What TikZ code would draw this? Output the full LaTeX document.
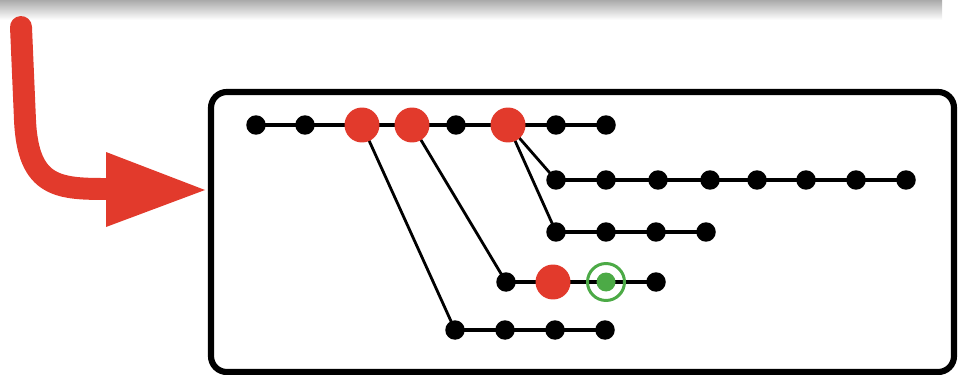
\documentclass[tikz,border=0pt]{standalone}
\usepackage{tikz}
\usetikzlibrary{backgrounds}
\definecolor{pickred}{RGB}{226, 58, 44}
\definecolor{headgreen}{RGB}{76, 170, 70}
\definecolor{shadowgray}{RGB}{170, 170, 170}

\begin{document}
\begin{tikzpicture}[x=0.02cm, y=-0.02cm,
    commit/.style={circle, fill=black, inner sep=0pt, minimum size=0.39cm},
    picked/.style={circle, fill=pickred, inner sep=0pt, minimum size=0.7cm},
    headring/.style={circle, draw=headgreen, line width=1.7pt, inner sep=0pt, minimum size=0.74cm},
    headdot/.style={circle, fill=headgreen, inner sep=0pt, minimum size=0.38cm},
    branch/.style={line width=2.2pt},
    link/.style={line width=1.6pt}]
    \useasboundingbox (0,0) rectangle (960,375);

    % Shadow along the top edge
    \shade[top color=shadowgray, bottom color=white] (0,0) rectangle (942,20);

    % Red arrow pointing into the panel
    \draw[pickred, line width=12.5pt, line cap=round] (21,27) -- (25,120) .. controls (28,189) and (60,189) .. (110,189);
    \fill[pickred] (106,152) -- (205,190) -- (106,227) -- cycle;

    % Panel
    \draw[line width=3.5pt, rounded corners=9pt] (211,92) rectangle (954,372);

    % Main line
    \foreach \x/\s [count=\i] in {256/commit, 305/commit, 362/picked, 412/picked, 456/commit, 508/picked, 556/commit, 606/commit}
        \node[\s] (t\i) at (\x,125) {};

    % Upper branch
    \foreach \x [count=\i] in {556, 606, 658, 710, 757, 806, 856, 906}
        \node[commit] (b\i) at (\x,180) {};

    % Short branch
    \foreach \x [count=\i] in {556, 606, 656, 706}
        \node[commit] (d\i) at (\x,232) {};

    % Branch with the current commit
    \node[commit] (e1) at (506,282) {};
    \node[picked] (e2) at (553,282) {};
    \node[headring] (e3) at (606,282) {};
    \node[headdot] (e3dot) at (e3) {};
    \node[commit] (e4) at (656,282) {};

    % Lower branch
    \foreach \x [count=\i] in {455, 505, 555, 605}
        \node[commit] (f\i) at (\x,330) {};

    \begin{scope}[on background layer]
        % Edges along each line
        \draw[branch] (t1.center) -- (t8.center);
        \draw[branch] (b1.center) -- (b8.center);
        \draw[branch] (d1.center) -- (d4.center);
        \draw[branch] (e1.center) -- (e4.center);
        \draw[branch] (f1.center) -- (f4.center);

        % Where the branches start
        \draw[link] (t3.center) -- (f1.center);
        \draw[link] (t4.center) -- (e1.center);
        \draw[link] (t6.center) -- (b1.center);
        \draw[link] (t6.center) -- (d1.center);
    \end{scope}
\end{tikzpicture}
\end{document}
